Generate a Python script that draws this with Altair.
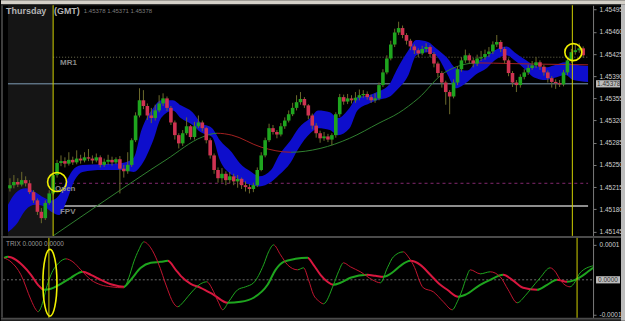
import altair as alt
import pandas as pd

FONT = "Liberation Sans"

# ---------------- candles (one per bar, oldest first) ----------------
bar_open = [
    1.45213, 1.45218, 1.45223, 1.45219, 1.45226, 1.45221, 1.45207, 1.45194, 1.45176, 1.45166,
    1.45190, 1.45205, 1.45234, 1.45253, 1.45256, 1.45252, 1.45258, 1.45254, 1.45260, 1.45257,
    1.45262, 1.45260, 1.45257, 1.45262, 1.45250, 1.45255, 1.45258, 1.45254, 1.45259, 1.45244,
    1.45240, 1.45250, 1.45289, 1.45328, 1.45352, 1.45343, 1.45328, 1.45324, 1.45336, 1.45347,
    1.45355, 1.45340, 1.45317, 1.45297, 1.45284, 1.45300, 1.45311, 1.45294, 1.45311, 1.45317,
    1.45308, 1.45289, 1.45265, 1.45242, 1.45229, 1.45236, 1.45226, 1.45232, 1.45224, 1.45228,
    1.45218, 1.45215, 1.45212, 1.45218, 1.45242, 1.45265, 1.45289, 1.45308, 1.45302, 1.45298,
    1.45311, 1.45320, 1.45330, 1.45340, 1.45349, 1.45354, 1.45344, 1.45328, 1.45312, 1.45300,
    1.45292, 1.45295, 1.45290, 1.45297, 1.45330, 1.45357, 1.45350, 1.45355, 1.45352, 1.45356,
    1.45360, 1.45362, 1.45357, 1.45352, 1.45355, 1.45376, 1.45396, 1.45418, 1.45440, 1.45459,
    1.45466, 1.45455, 1.45446, 1.45437, 1.45431, 1.45426, 1.45433, 1.45436, 1.45425, 1.45410,
    1.45395, 1.45380, 1.45365, 1.45358, 1.45380, 1.45401, 1.45415, 1.45423, 1.45415, 1.45410,
    1.45418, 1.45420, 1.45425, 1.45429, 1.45440, 1.45444, 1.45433, 1.45415, 1.45395, 1.45380,
    1.45376, 1.45389, 1.45396, 1.45403, 1.45407, 1.45412, 1.45405, 1.45396, 1.45387, 1.45381,
    1.45379, 1.45377, 1.45396, 1.45415, 1.45428, 1.45431, 1.45434,
]
bar_close = [
    1.45218, 1.45223, 1.45219, 1.45226, 1.45221, 1.45207, 1.45194, 1.45176, 1.45166, 1.45190,
    1.45205, 1.45234, 1.45253, 1.45256, 1.45252, 1.45258, 1.45254, 1.45260, 1.45257, 1.45262,
    1.45260, 1.45257, 1.45262, 1.45250, 1.45255, 1.45258, 1.45254, 1.45259, 1.45244, 1.45240,
    1.45250, 1.45289, 1.45328, 1.45352, 1.45343, 1.45328, 1.45324, 1.45336, 1.45347, 1.45355,
    1.45340, 1.45317, 1.45297, 1.45284, 1.45300, 1.45311, 1.45294, 1.45311, 1.45317, 1.45308,
    1.45289, 1.45265, 1.45242, 1.45229, 1.45236, 1.45226, 1.45232, 1.45224, 1.45228, 1.45218,
    1.45215, 1.45212, 1.45218, 1.45242, 1.45265, 1.45289, 1.45308, 1.45302, 1.45298, 1.45311,
    1.45320, 1.45330, 1.45340, 1.45349, 1.45354, 1.45344, 1.45328, 1.45312, 1.45300, 1.45292,
    1.45295, 1.45290, 1.45297, 1.45330, 1.45357, 1.45350, 1.45355, 1.45352, 1.45356, 1.45360,
    1.45362, 1.45357, 1.45352, 1.45355, 1.45376, 1.45396, 1.45418, 1.45440, 1.45459, 1.45466,
    1.45455, 1.45446, 1.45437, 1.45431, 1.45426, 1.45433, 1.45436, 1.45425, 1.45410, 1.45395,
    1.45380, 1.45365, 1.45358, 1.45380, 1.45401, 1.45415, 1.45423, 1.45415, 1.45410, 1.45418,
    1.45420, 1.45425, 1.45429, 1.45440, 1.45444, 1.45433, 1.45415, 1.45395, 1.45380, 1.45376,
    1.45389, 1.45396, 1.45403, 1.45407, 1.45412, 1.45405, 1.45396, 1.45387, 1.45381, 1.45379,
    1.45377, 1.45396, 1.45415, 1.45428, 1.45431, 1.45434, 1.45423,
]
bar_high = [
    1.45229, 1.45234, 1.45229, 1.45239, 1.45232, 1.45226, 1.45210, 1.45197, 1.45182, 1.45194,
    1.45210, 1.45237, 1.45258, 1.45265, 1.45262, 1.45270, 1.45263, 1.45273, 1.45266, 1.45270,
    1.45275, 1.45265, 1.45268, 1.45265, 1.45260, 1.45266, 1.45263, 1.45262, 1.45264, 1.45250,
    1.45270, 1.45292, 1.45333, 1.45371, 1.45368, 1.45347, 1.45340, 1.45345, 1.45360, 1.45363,
    1.45358, 1.45343, 1.45320, 1.45300, 1.45305, 1.45325, 1.45313, 1.45318, 1.45328, 1.45320,
    1.45310, 1.45292, 1.45268, 1.45246, 1.45245, 1.45240, 1.45239, 1.45236, 1.45234, 1.45230,
    1.45224, 1.45220, 1.45222, 1.45246, 1.45270, 1.45293, 1.45315, 1.45313, 1.45305, 1.45316,
    1.45325, 1.45336, 1.45348, 1.45360, 1.45365, 1.45357, 1.45346, 1.45331, 1.45316, 1.45304,
    1.45302, 1.45299, 1.45300, 1.45333, 1.45362, 1.45361, 1.45362, 1.45360, 1.45365, 1.45369,
    1.45368, 1.45366, 1.45361, 1.45363, 1.45380, 1.45401, 1.45423, 1.45446, 1.45465, 1.45476,
    1.45470, 1.45458, 1.45449, 1.45440, 1.45434, 1.45438, 1.45442, 1.45439, 1.45428, 1.45413,
    1.45398, 1.45383, 1.45368, 1.45385, 1.45406, 1.45420, 1.45432, 1.45426, 1.45419, 1.45424,
    1.45430, 1.45432, 1.45436, 1.45445, 1.45455, 1.45447, 1.45436, 1.45418, 1.45398, 1.45384,
    1.45393, 1.45401, 1.45408, 1.45414, 1.45420, 1.45415, 1.45408, 1.45399, 1.45390, 1.45385,
    1.45384, 1.45400, 1.45419, 1.45433, 1.45440, 1.45442, 1.45437,
]
bar_low = [
    1.45208, 1.45213, 1.45215, 1.45216, 1.45216, 1.45204, 1.45190, 1.45171, 1.45158, 1.45163,
    1.45187, 1.45202, 1.45230, 1.45248, 1.45246, 1.45249, 1.45250, 1.45251, 1.45252, 1.45254,
    1.45256, 1.45252, 1.45254, 1.45246, 1.45247, 1.45250, 1.45249, 1.45251, 1.45205, 1.45230,
    1.45236, 1.45247, 1.45286, 1.45325, 1.45338, 1.45321, 1.45316, 1.45320, 1.45333, 1.45343,
    1.45335, 1.45313, 1.45290, 1.45276, 1.45280, 1.45297, 1.45290, 1.45290, 1.45308, 1.45303,
    1.45284, 1.45260, 1.45236, 1.45222, 1.45222, 1.45218, 1.45221, 1.45218, 1.45214, 1.45212,
    1.45208, 1.45205, 1.45207, 1.45215, 1.45240, 1.45262, 1.45286, 1.45298, 1.45292, 1.45295,
    1.45307, 1.45317, 1.45327, 1.45336, 1.45345, 1.45340, 1.45322, 1.45306, 1.45293, 1.45285,
    1.45288, 1.45286, 1.45281, 1.45293, 1.45326, 1.45345, 1.45346, 1.45347, 1.45348, 1.45352,
    1.45356, 1.45353, 1.45348, 1.45348, 1.45352, 1.45373, 1.45393, 1.45415, 1.45436, 1.45455,
    1.45450, 1.45440, 1.45431, 1.45425, 1.45420, 1.45423, 1.45428, 1.45420, 1.45404, 1.45388,
    1.45372, 1.45345, 1.45330, 1.45355, 1.45376, 1.45397, 1.45411, 1.45410, 1.45404, 1.45406,
    1.45414, 1.45416, 1.45420, 1.45425, 1.45436, 1.45428, 1.45410, 1.45390, 1.45373, 1.45365,
    1.45372, 1.45385, 1.45392, 1.45400, 1.45403, 1.45400, 1.45391, 1.45380, 1.45372, 1.45370,
    1.45373, 1.45374, 1.45392, 1.45411, 1.45424, 1.45427, 1.45419,
]

# ---------------- blue band (upper / lower edge, by bar position) ----------------
band_x = [0, 2, 4.5, 7, 9, 11, 13, 15, 17, 19, 24, 29, 32, 34, 37, 39, 42, 44, 47, 49,
          52, 54, 57, 59, 62, 64, 67, 69, 72, 74, 77, 79, 82, 84, 87, 89, 92, 94, 97, 99,
          102, 104, 107, 109, 112, 114, 117, 119, 122, 124, 127, 129, 132, 134, 137, 139,
          142, 144, 147.75]
band_top = [1.45187, 1.45206, 1.45213, 1.45207, 1.45199, 1.45194, 1.45202, 1.45226, 1.45245, 1.45250,
            1.45251, 1.45253, 1.45261, 1.45305, 1.45340, 1.45352, 1.45352, 1.45344, 1.45333, 1.45317,
            1.45308, 1.45289, 1.45270, 1.45253, 1.45239, 1.45232, 1.45242, 1.45265, 1.45289, 1.45308,
            1.45324, 1.45336, 1.45333, 1.45324, 1.45340, 1.45357, 1.45360, 1.45365, 1.45376, 1.45400,
            1.45431, 1.45447, 1.45444, 1.45434, 1.45418, 1.45403, 1.45399, 1.45411, 1.45421, 1.45431,
            1.45437, 1.45428, 1.45415, 1.45407, 1.45404, 1.45407, 1.45412, 1.45409, 1.45406]
band_bottom = [1.45144, 1.45155, 1.45179, 1.45187, 1.45185, 1.45176, 1.45171, 1.45194, 1.45226, 1.45239,
               1.45242, 1.45242, 1.45239, 1.45250, 1.45289, 1.45324, 1.45336, 1.45324, 1.45313, 1.45302,
               1.45294, 1.45257, 1.45234, 1.45226, 1.45218, 1.45216, 1.45223, 1.45234, 1.45254, 1.45276,
               1.45300, 1.45308, 1.45305, 1.45297, 1.45308, 1.45336, 1.45347, 1.45352, 1.45357, 1.45368,
               1.45392, 1.45423, 1.45428, 1.45423, 1.45392, 1.45371, 1.45381, 1.45392, 1.45403, 1.45415,
               1.45423, 1.45415, 1.45399, 1.45388, 1.45384, 1.45387, 1.45392, 1.45384, 1.45381]

# ---------------- slow moving line ----------------
ma_x = [11.5, 24.5, 36.25, 40.25, 49.5, 53.25, 57, 64.5, 72, 79.5, 87, 94.5, 99.5, 104.5,
        111.25, 119.5, 127.75, 136.5, 147.75]
ma_val = [1.45138, 1.45193, 1.45242, 1.45258, 1.45294, 1.45300, 1.45297, 1.45278, 1.45270,
          1.45276, 1.45292, 1.45316, 1.45332, 1.45355, 1.45396, 1.45411, 1.45410, 1.45409, 1.45408]

# ---------------- TRIX panel ----------------
trix_fast_x = [0.25, 2, 4.5, 7, 8.25, 8.75, 10, 10.75, 12, 14, 15.75, 17.5, 19.5, 22, 24.5, 27,
               30.25, 31.5, 32.75, 34, 35.25, 37, 38.75, 41.25, 42.5, 43.75, 45, 46.25, 49.5, 51,
               52.75, 54, 55, 56.5, 58.75, 60.75, 62.75, 65.25, 66.5, 67.75, 69.5, 71.25, 73.75,
               75.25, 76.5, 77.75, 79, 80.25, 82.75, 84, 85.25, 87, 89.5, 92.5, 94.5, 96.25, 97.75,
               100.25, 101.5, 102.75, 105.25, 107.75, 110.25, 112.5, 113.75, 115, 116, 117, 119.5,
               122, 124.5, 126.5, 128.75, 130.75, 132, 134.5, 137, 138.5, 139.5, 142, 143.25,
               144.5, 147.75]
trix_fast = [6.29e-5, 5.14e-5, 1.43e-5, -5.71e-5, -8.57e-5, -9.14e-5, -6.29e-5, -2.86e-5, 1.43e-5,
             4.86e-5, 6.0e-5, 5.14e-5, 2.86e-5, 0.0, -1.43e-5, -2.0e-5, -2.29e-5, 0.57e-5, 5.14e-5,
             8.57e-5, 10.86e-5, 9.14e-5, 5.14e-5, -2.86e-5, -6.29e-5, -7.71e-5, -6.57e-5, -4.86e-5,
             -1.14e-5, -0.57e-5, -3.43e-5, -6.57e-5, -8.57e-5, -6.29e-5, -2.86e-5, -2.0e-5,
             -0.86e-5, 4.29e-5, 8.0e-5, 10.0e-5, 7.14e-5, 4.29e-5, 2.86e-5, 3.43e-5, 0.0, -4.29e-5,
             -6.0e-5, -6.86e-5, -1.43e-5, 2.29e-5, 4.86e-5, 3.71e-5, 2.29e-5, 0.0, -0.86e-5,
             3.43e-5, 6.57e-5, 8.0e-5, 6.57e-5, 4.29e-5, -2.29e-5, -3.43e-5, -6.29e-5, -8.57e-5,
             -6.29e-5, -2.86e-5, 0.57e-5, 2.86e-5, 1.71e-5, 2.29e-5, 0.86e-5, -2.86e-5, -6.57e-5,
             -4.57e-5, -2.86e-5, 0.57e-5, 3.43e-5, 2.0e-5, 0.0, -2.0e-5, -0.57e-5, 2.0e-5, 4.0e-5]
trix_slow_x = [0.25, 1.25, 3.25, 5, 7, 8.75, 10.25, 12, 14.5, 17, 19, 20, 22, 24.5, 27.5, 30.25,
               32, 34.5, 37, 39.5, 41.25, 43.25, 44.5, 47, 49.5, 52.75, 56.25, 59.5, 62.75, 66.25,
               68.25, 70.25, 73.25, 76.25, 77.75, 79.5, 81.25, 82.75, 84.5, 87, 91.25, 93.25, 95.25,
               97.75, 99.5, 102, 104.5, 107, 109.5, 111.25, 114, 115.75, 119.5, 122, 125.25, 127.5,
               130.25, 133.75, 136.25, 138.75, 140, 141.25, 143.25, 145.75, 147.75]
trix_slow = [6.29e-5, 6.57e-5, 5.71e-5, 4.0e-5, 1.43e-5, -1.43e-5, -2.86e-5, -2.57e-5, -1.14e-5,
             0.57e-5, 2.0e-5, 2.29e-5, 1.43e-5, 0.0, -1.43e-5, -2.0e-5, 0.0, 3.43e-5, 4.86e-5,
             5.14e-5, 5.43e-5, 2.86e-5, 1.14e-5, -1.14e-5, -2.29e-5, -4.29e-5, -6.57e-5, -6.29e-5,
             -5.14e-5, -1.43e-5, 2.86e-5, 5.14e-5, 6.0e-5, 6.29e-5, 4.29e-5, 1.43e-5, -0.57e-5,
             -1.43e-5, -0.86e-5, 0.57e-5, 1.43e-5, 1.14e-5, 0.86e-5, 2.29e-5, 4.0e-5, 5.43e-5,
             4.29e-5, 1.43e-5, -1.43e-5, -2.86e-5, -4.86e-5, -4.29e-5, -1.43e-5, 0.0, 1.43e-5, 0.0,
             -2.29e-5, -2.86e-5, -1.43e-5, 0.0, -0.29e-5, -0.57e-5, 0.0, 1.71e-5, 3.43e-5]

# ---------------- levels, ticks, annotations ----------------
price_ticks = [1.45145, 1.45180, 1.45215, 1.45250, 1.45285, 1.45320, 1.45355, 1.45390,
               1.45425, 1.45460, 1.45495]
trix_ticks = [0.0001, -0.0001]
current_price = 1.45378
level_names = ["MR1", "Open", "FPV"]
level_prices = [1.45420, 1.45221, 1.45185]
session_x = [11.5, 143.75]
circle_x = [12.5, 144.0]
circle_price = [1.45223, 1.45428]
circle_size = [361, 289]
ellipse_x = [11.75]
ellipse_val = [-0.0000086]

X_END = 147.75
W, H1, H2 = 591, 231, 80
UP, DOWN = "#1ea51e", "#d8173f"

XS = alt.Scale(domain=[0, X_END], nice=False, zero=False)
PS = alt.Scale(domain=[1.45138, 1.45502], nice=False, zero=False)
TS = alt.Scale(domain=[-0.0001086, 0.00012], nice=False, zero=False)

axis_common = dict(orient="right", labelColor="#cfcfcf", labelFont=FONT, labelFontSize=6.5,
                   domainColor="#7a7a7a", tickColor="#7a7a7a", tickSize=3, labelPadding=3,
                   grid=False, labelOverlap=False, labelBound=False, title=None)
price_axis = alt.Axis(values=price_ticks, format=".5f", **axis_common)
trix_axis = alt.Axis(values=trix_ticks, format=".4f",
                     labelExpr="replace(datum.label, '\u2212', '-')", **axis_common)


def PX(f):
    return alt.X(f, type="quantitative", scale=XS, axis=None)


def PY(f):
    return alt.Y(f, type="quantitative", scale=PS, axis=price_axis)


def TY(f):
    return alt.Y(f, type="quantitative", scale=TS, axis=trix_axis)


def slope_gradient(xs, vs, up, down):
    """Horizontal stroke gradient: 'up' colour where the series rises, 'down' where it falls."""
    x0, x1 = xs[0], xs[-1]
    stops, prev = [], None
    for k in range(1, len(xs)):
        col = up if vs[k] >= vs[k - 1] else down
        if col != prev:
            off = (xs[k - 1] - x0) / (x1 - x0)
            if prev is not None:
                stops.append(alt.GradientStop(color=prev, offset=off))
            stops.append(alt.GradientStop(color=col, offset=off))
            prev = col
    stops.append(alt.GradientStop(color=prev, offset=1))
    return alt.LinearGradient(gradient="linear", stops=stops, x1=0, x2=1, y1=0, y2=0)


one = pd.DataFrame({"a": [0]})


def deco(color, x0, x1, y0, y1):
    return alt.Chart(one).mark_rect(color=color).encode(
        x=alt.value(x0), x2=alt.value(x1), y=alt.value(y0), y2=alt.value(y1))


N = len(bar_open)
candles = pd.DataFrame({"idx": [i + 0.5 for i in range(N)], "open": bar_open,
                        "high": bar_high, "low": bar_low, "close": bar_close})
candles["c"] = ["#1ea51e" if c >= o else "#cf3352" for o, c in zip(bar_open, bar_close)]

band = pd.DataFrame({"x": band_x, "top": band_top, "bottom": band_bottom})
ma_df = pd.DataFrame({"x": ma_x, "v": ma_val})
fast_df = pd.DataFrame({"x": trix_fast_x, "v": trix_fast})
slow_df = pd.DataFrame({"x": trix_slow_x, "v": trix_slow})

# ---------------- main (price) panel ----------------
main_layers = [
    deco("#d4d0c8", -2, 623, -5, -1),
    deco("#3a3a3a", -2, 623, -1, 0),
    deco("#3c3c3c", -2, 0, 0, H1),
    deco("#bdbdbd", 619, 623, -1, H1 + 2),
    alt.Chart(pd.DataFrame({"x0": [0], "x1": [session_x[0]]})).mark_rect(color="#151515").encode(
        x=PX("x0"), x2="x1", y=alt.value(0), y2=alt.value(H1)),
    alt.Chart(pd.DataFrame({"s": [session_x[0]], "e": [X_END], "p": [level_prices[0]]}))
    .mark_rule(color="#6e6e50", strokeDash=[1, 2], strokeWidth=1)
    .encode(x=PX("s"), x2="e", y=PY("p")),
    alt.Chart(pd.DataFrame({"s": [0], "e": [X_END], "p": [current_price]}))
    .mark_rule(color="#7f9fb8", strokeWidth=1)
    .encode(x=PX("s"), x2="e", y=PY("p")),
    alt.Chart(pd.DataFrame({"s": [session_x[0]], "e": [X_END], "p": [level_prices[1]]}))
    .mark_rule(color="#84286e", strokeDash=[3, 3], strokeWidth=1)
    .encode(x=PX("s"), x2="e", y=PY("p")),
    alt.Chart(pd.DataFrame({"s": [session_x[0]], "e": [X_END], "p": [level_prices[2]]}))
    .mark_rule(color="#bcbcbc", strokeWidth=1.5)
    .encode(x=PX("s"), x2="e", y=PY("p")),
    alt.Chart(band).mark_area(color="#0e0ecc", interpolate="monotone", opacity=1)
    .encode(x=PX("x"), y=PY("top"), y2="bottom"),
    alt.Chart(ma_df).mark_line(interpolate="monotone", strokeWidth=1,
                               stroke=slope_gradient(ma_x, ma_val, "#2f7f2f", "#a32020"))
    .encode(x=PX("x"), y=PY("v")),
    alt.Chart(candles).mark_rule(color="#6c6a2c", strokeWidth=1)
    .encode(x=PX("idx"), y=PY("low"), y2="high"),
    alt.Chart(candles).mark_bar(size=3.6)
    .encode(x=PX("idx"), y=PY("open"), y2="close", color=alt.Color("c:N", scale=None)),
    alt.Chart(pd.DataFrame({"x": session_x})).mark_rule(color="#d0d000", strokeWidth=1)
    .encode(x=PX("x")),
    alt.Chart(pd.DataFrame({"x": circle_x, "p": circle_price, "s": circle_size}))
    .mark_point(shape="circle", filled=False, color="#f0f000", strokeWidth=1.6, opacity=1)
    .encode(x=PX("x"), y=PY("p"), size=alt.Size("s:Q", scale=None)),
    alt.Chart(pd.DataFrame({"n": level_names, "x": [13.25, 12.0, 13.25], "p": level_prices}))
    .mark_text(align="left", baseline="top", dy=2, font=FONT, fontSize=8, fontWeight="bold",
               color="#8a8a8a")
    .encode(x=PX("x"), y=PY("p"), text="n:N"),
    alt.Chart(one).mark_text(align="left", baseline="middle", font=FONT, fontSize=6,
                             color="#7c7c7c", text="1.45378 1.45371 1.45378")
    .encode(x=alt.value(81), y=alt.value(6)),
    alt.Chart(one).mark_text(align="left", baseline="middle", font=FONT, fontSize=9,
                             fontWeight="bold", color="#b4b4b4", text="Thursday")
    .encode(x=alt.value(3), y=alt.value(6)),
    alt.Chart(one).mark_text(align="left", baseline="middle", font=FONT, fontSize=9,
                             fontWeight="bold", color="#b4b4b4", text="(GMT)")
    .encode(x=alt.value(51), y=alt.value(6)),
    alt.Chart(pd.DataFrame({"p": [current_price]}))
    .mark_point(shape="M-1,-0.3L1,-0.3L1,0.3L-1,0.3Z", filled=True, size=576,
                color="#bdbdbd", opacity=1)
    .encode(x=alt.value(606), y=PY("p")),
    alt.Chart(pd.DataFrame({"p": [current_price], "t": ["1.45378"]}))
    .mark_text(align="left", baseline="middle", font=FONT, fontSize=6.5, color="#303030")
    .encode(x=alt.value(595), y=PY("p"), text="t:N"),
]
main = alt.layer(*main_layers).properties(width=W, height=H1)

# ---------------- TRIX panel ----------------
lower_layers = [
    deco("#4a4a4a", -2, 619, -2, 0),
    deco("#4a4a4a", -2, 619, H2, H2 + 2),
    deco("#2a2a2a", -2, 619, H2 + 2, H2 + 3),
    deco("#3c3c3c", -2, 0, 0, H2),
    deco("#bdbdbd", 619, 623, -2, H2 + 3),
    alt.Chart(pd.DataFrame({"s": [0], "e": [X_END], "v": [0.0]}))
    .mark_rule(color="#6a6a6a", strokeDash=[2, 2], strokeWidth=1)
    .encode(x=PX("s"), x2="e", y=TY("v")),
    alt.Chart(slow_df).mark_line(interpolate="monotone", strokeWidth=2,
                                 stroke=slope_gradient(trix_slow_x, trix_slow, UP, DOWN))
    .encode(x=PX("x"), y=TY("v")),
    alt.Chart(fast_df).mark_line(interpolate="monotone", strokeWidth=1,
                                 stroke=slope_gradient(trix_fast_x, trix_fast, UP, "#c0142f"))
    .encode(x=PX("x"), y=TY("v")),
    alt.Chart(pd.DataFrame({"x": session_x})).mark_rule(color="#d0d000", strokeWidth=1)
    .encode(x=PX("x")),
    alt.Chart(pd.DataFrame({"x": ellipse_x, "v": ellipse_val}))
    .mark_point(shape="M-0.21,0A0.21,1 0 1,1 0.21,0A0.21,1 0 1,1 -0.21,0Z", filled=False,
                size=4489, color="#f0f000", strokeWidth=1.6, opacity=1)
    .encode(x=PX("x"), y=TY("v")),
    alt.Chart(one).mark_text(align="left", baseline="middle", font=FONT, fontSize=6.5,
                             color="#9a9a9a", text="TRIX 0.0000 0.0000")
    .encode(x=alt.value(3), y=alt.value(6)),
    alt.Chart(pd.DataFrame({"v": [0.0]}))
    .mark_point(shape="M-1,-0.3L1,-0.3L1,0.3L-1,0.3Z", filled=True, size=576,
                color="#bdbdbd", opacity=1)
    .encode(x=alt.value(606), y=TY("v")),
    alt.Chart(pd.DataFrame({"v": [0.0], "t": ["0.0000"]}))
    .mark_text(align="left", baseline="middle", font=FONT, fontSize=6.5, color="#303030")
    .encode(x=alt.value(596), y=TY("v"), text="t:N"),
]
lower = alt.layer(*lower_layers).properties(width=W, height=H2)

chart = (
    alt.vconcat(main, lower, spacing=2, bounds="flush")
    .properties(padding=0)
    .configure(background="#000000")
    .configure_view(strokeWidth=0)
)

chart.save("out.html", embed_options={"renderer": "svg", "actions": False})
